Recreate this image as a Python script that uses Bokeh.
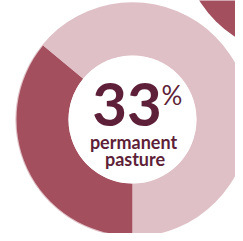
from math import pi
from bokeh.plotting import figure
from bokeh.models import Range1d
from bokeh.embed import file_html
from bokeh.resources import INLINE
from bokeh.core.properties import value

# data
labels = ["permanent pasture", "other"]
shares = [36, 64]          # share of the ring as drawn
headline = "33"
headline_unit = "%"
caption = ["permanent", "pasture"]
colors = ["#A34F5E", "#DFC0C6"]

W, H = 235, 233
p = figure(width=W, height=H, output_backend="svg", toolbar_location=None,
           x_range=Range1d(0, W), y_range=Range1d(0, H),
           min_border=0, outline_line_color=None, background_fill_color="white")
p.axis.visible = False
p.grid.visible = False

cx, cy, r_in, r_out = 132, H - 119, 64, 116

# neighbouring donut (top-right, mostly off-canvas)
p.circle(x=[298], y=[H + 62], radius=117, fill_color=colors[0], line_color=None)

# faint halo
p.annular_wedge(x=cx, y=cy, inner_radius=r_in, outer_radius=r_out + 1.2,
                start_angle=0, end_angle=2 * pi, fill_color=colors[1], line_color=None)

total = sum(shares)
start = -pi / 2
for s, c in zip(shares, colors):
    end = start - 2 * pi * s / total
    p.annular_wedge(x=cx, y=cy, inner_radius=r_in, outer_radius=r_out,
                    start_angle=start, end_angle=end, direction="clock",
                    fill_color=c, line_color=None)
    start = end

p.circle(x=[cx], y=[cy], radius=r_in, fill_color="white", line_color=None)

txt = "#5E1F38"
p.text(x=[126.5], y=[H - 104], text=[headline], text_font=value("Lato"),
       text_font_style="bold", text_font_size="60px", text_color=txt,
       text_align="center", text_baseline="alphabetic")
p.text(x=[161], y=[H - 94], text=[headline_unit], text_font=value("Lato"),
       text_font_size="26px", text_color=txt,
       text_align="left", text_baseline="alphabetic")
p.text(x=[133, 134.5], y=[H - 141, H - 158], text=caption, text_font=value("Lato"),
       text_font_style="bold", text_font_size="18px", text_color=txt,
       text_align="center", text_baseline="alphabetic")

open("out.html", "w").write(file_html(p, INLINE))
